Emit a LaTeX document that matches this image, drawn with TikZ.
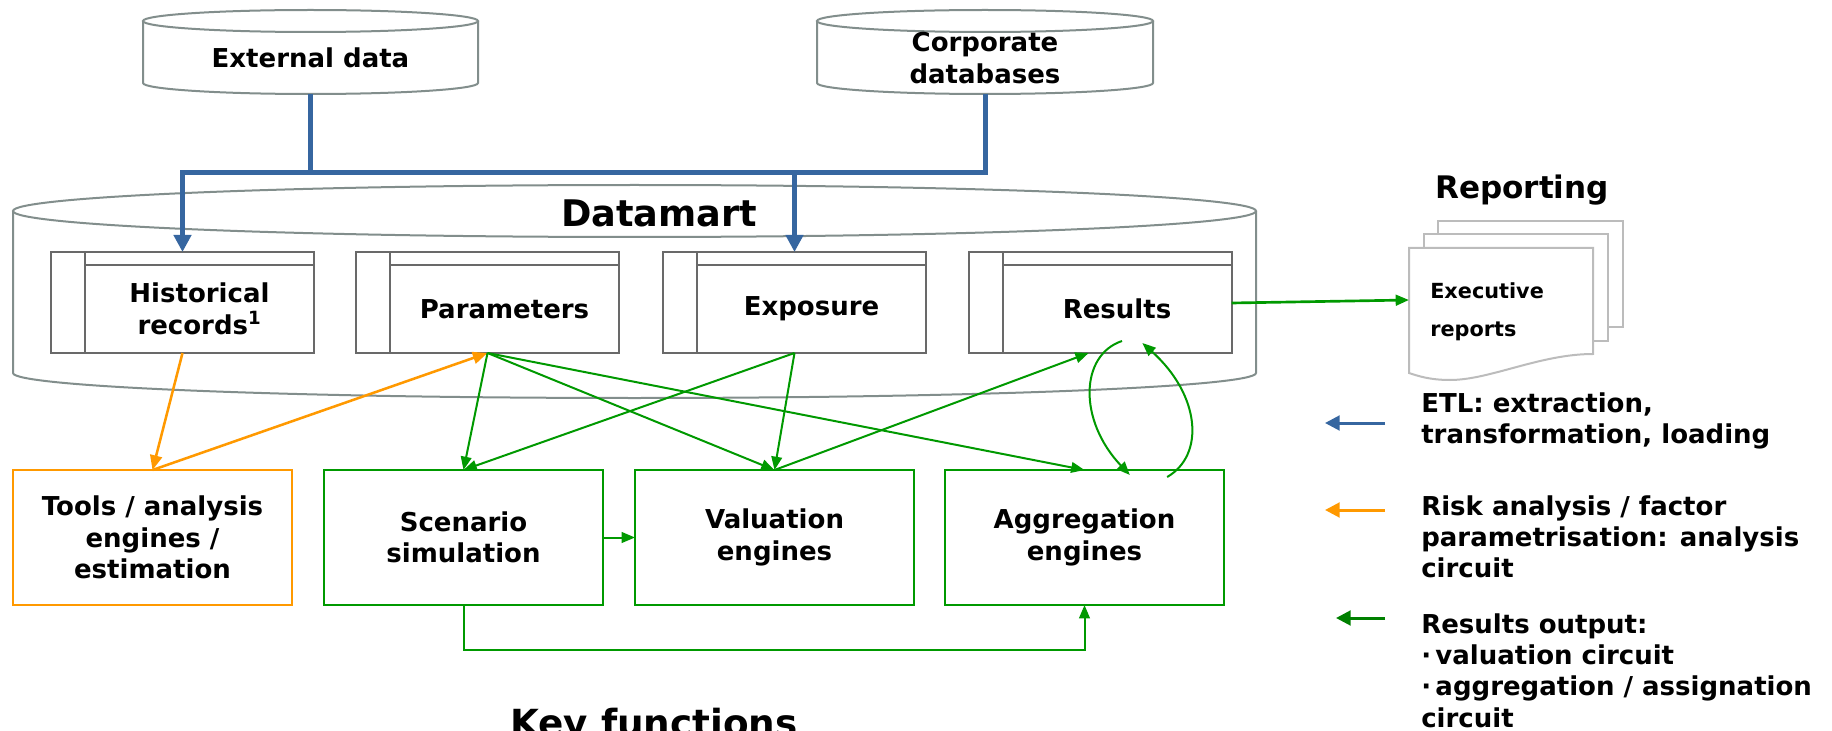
\documentclass[tikz,border=0pt]{standalone}
\usepackage{fontspec}
\setmainfont{DejaVu Sans}
\usetikzlibrary{arrows.meta}

\definecolor{etlblue}{RGB}{54,102,160}
\definecolor{anaorange}{RGB}{255,153,0}
\definecolor{resgreen}{RGB}{0,153,0}
\definecolor{leggreen}{RGB}{0,128,0}
\definecolor{cylgray}{RGB}{130,142,140}
\definecolor{tablegray}{RGB}{105,105,105}
\definecolor{pagegray}{RGB}{188,188,188}

\newcommand{\boxfont}{\bfseries\fontsize{19.5pt}{23.6pt}\selectfont}

\tikzset{
  cylline/.style={draw=cylgray, line width=1.5pt, fill=white},
  pageline/.style={draw=pagegray, line width=1.5pt, fill=white},
  tablebody/.style={draw=tablegray, line width=1.5pt, outer sep=0pt, minimum width=171.75pt, minimum height=66pt, align=center, font=\boxfont},
  funcbox/.style={draw=resgreen, line width=1.5pt, outer sep=0pt, minimum width=209.25pt, minimum height=101.25pt, align=center, font=\boxfont},
  dbtext/.style={minimum width=251.25pt, minimum height=54pt, outer sep=0pt, align=center, font=\boxfont},
  etlline/.style={draw=etlblue, line width=3.75pt},
  etlarrow/.style={etlline, -{Triangle[length=12.75pt,width=12.75pt]}},
  resarrow/.style={draw=resgreen, line width=1.5pt, -{Triangle[length=10pt,width=8pt]}},
  anaarrow/.style={draw=anaorange, line width=1.9pt, -{Triangle[length=11pt,width=9pt]}},
  legtext/.style={anchor=north west, inner sep=0pt, align=left, font=\boxfont},
  legarrow/.style={line width=2.25pt, -{Triangle[length=11pt,width=11pt]}},
}

\begin{document}
\begin{tikzpicture}[x=0.75pt,y=0.75pt,yscale=-1,xscale=1]
        \useasboundingbox (0,0) rectangle (1832,731);
        % Cylinders
        \draw[cylline] (143,21) -- (143,83) arc[start angle=180, end angle=0, x radius=167.5, y radius=11] -- (478,21);
        \draw[cylline] (310.5,21) ellipse [x radius=167.5, y radius=11];
        \draw[cylline] (817,21) -- (817,83) arc[start angle=180, end angle=0, x radius=168, y radius=11] -- (1153,21);
        \draw[cylline] (985,21) ellipse [x radius=168, y radius=11];
        \draw[cylline] (13,211) -- (13,373) arc[start angle=180, end angle=0, x radius=621.5, y radius=25] -- (1256,211);
        \draw[cylline] (634.5,211) ellipse [x radius=621.5, y radius=26];
        % Text Node
        \node[dbtext] (extdata) at (310.5,58) {External data};
        \node[dbtext] (corpdb) at (985,58) {Corporate\\databases};
        \node[font=\bfseries\fontsize{27.5pt}{33pt}\selectfont] (dmart) at (659,213) {Datamart};
        % Tables
        \node[tablebody] (hist) at (199.5,309) {Historical\\records\textsuperscript{1}};
        \node[tablebody] (params) at (504.5,309) {Parameters};
        \node[tablebody] (expo) at (811.5,309) {Exposure};
        \node[tablebody] (results) at (1117,309) {Results};
        \foreach \n in {hist,params,expo,results}{
          \draw[draw=tablegray, line width=1.5pt] (\n.north east) -- ++(0,-13) -- ++(-263,0) -- ++(0,101) -- ++(34,0) (\n.north west) -- ++(0,-13);
          \coordinate (\n-top) at ([xshift=-12.75pt,yshift=-9.75pt]\n.north);
          \coordinate (\n-bot) at ([xshift=-12.75pt]\n.south);
        }
        % Key functions
        \node[funcbox, draw=anaorange] (tools) at (152.5,537.5) {Tools / analysis\\engines /\\estimation};
        \node[funcbox] (scen) at (463.5,537.5) {Scenario\\simulation};
        \node[funcbox] (val) at (774.5,537.5) {Valuation\\engines};
        \node[funcbox] (agg) at (1084.5,537.5) {Aggregation\\engines};
        \node[anchor=base, font=\bfseries\fontsize{28pt}{33pt}\selectfont] (keyfn) at (654,736) {Key functions};
        % Reporting
        \node[font=\bfseries\fontsize{23.3pt}{28pt}\selectfont] (reptitle) at (1522,190) {Reporting};
        \draw[pageline] (1438,221) rectangle (1623,327);
        \draw[pageline] (1424,234) rectangle (1608,341);
        \draw[pageline] (1409,248) -- (1593,248) -- (1593,354) .. controls (1540,354) and (1490,380) .. (1450,380) .. controls (1430,380) and (1418,376) .. (1409,373) -- cycle;
        \node[anchor=west, inner xsep=15.75pt, align=left, font=\bfseries\fontsize{15.6pt}{28.5pt}\selectfont] (exec) at (1409,312) {Executive\\reports};
        % Connection
        \draw[etlline] (extdata.south) -- ++(0,79);
        \draw[etlarrow] (corpdb.south) -- ++(0,79) -| (hist-top);
        \draw[etlarrow] (expo-top) ++(0,-79) -- (expo-top);
        % Connection
        \draw[anaarrow] (hist-bot) -- (tools.north);
        \draw[anaarrow] (tools.north) -- (params-bot);
        % Connection
        \draw[resarrow] (params-bot) -- (scen.north);
        \draw[resarrow] (params-bot) -- (val.north);
        \draw[resarrow] (params-bot) -- (agg.north);
        \draw[resarrow] (expo-bot) -- (scen.north);
        \draw[resarrow] (expo-bot) -- (val.north);
        \draw[resarrow] (val.north) -- ([xshift=-8.5pt]results-bot);
        \draw[resarrow] (scen.east) -- (val.west);
        \draw[resarrow] (scen.south) -- ++(0,45) -| (agg.south);
        \draw[resarrow] ([xshift=3.75pt,yshift=-9pt]results.south) .. controls +(-42,14) and +(-52,-55) .. ([xshift=34pt,yshift=3.75pt]agg.north);
        \draw[resarrow] ([xshift=62pt,yshift=5.25pt]agg.north) .. controls +(38,-22) and +(58,52) .. ([xshift=19pt,yshift=-7.5pt]results.south);
        \draw[resarrow, line width=2pt] ([yshift=-4.5pt]results.east) -- ([yshift=-9pt]exec.west);
        % Legend
        \node[legtext] (etltxt) at (1421,392) {ETL: extraction,\\transformation, loading};
        \node[legtext] (risktxt) at (1421,495) {Risk analysis / factor\\parametrisation: analysis\\circuit};
        \node[legtext] (restxt) at (1421,613) {Results output:\\{\textperiodcentered}\,valuation circuit\\{\textperiodcentered}\,aggregation / assignation\\circuit};
        \draw[legarrow, etlblue] ([xshift=-27pt,yshift=23.25pt]etltxt.north west) -- ++(-60,0);
        \draw[legarrow, anaorange] ([xshift=-27pt,yshift=11.25pt]risktxt.north west) -- ++(-60,0);
        \draw[legarrow, leggreen] ([xshift=-27pt,yshift=3.75pt]restxt.north west) -- ++(-49,0);
    \end{tikzpicture}
\end{document}
